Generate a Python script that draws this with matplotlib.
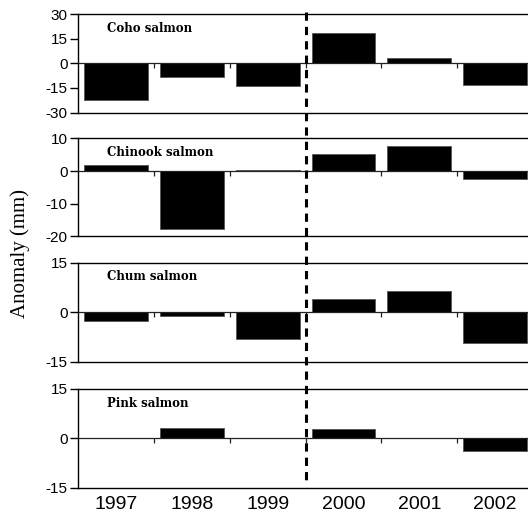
import matplotlib
matplotlib.use("Agg")
import matplotlib.pyplot as plt
import matplotlib.transforms as mtransforms
from matplotlib.lines import Line2D
import numpy as np

years = ["1997", "1998", "1999", "2000", "2001", "2002"]
species = ["Coho salmon", "Chinook salmon", "Chum salmon", "Pink salmon"]
coho = [-22.5, -8.6, -14.0, 18.4, 3.0, -13.0]
chinook = [1.8, -17.8, 0.3, 5.2, 7.6, -2.4]
chum = [-2.7, -1.2, -8.3, 4.0, 6.5, -9.5]
pink = [0.0, 3.0, 0.0, 2.7, 0.0, -4.0]
series = [coho, chinook, chum, pink]
ylims = [(-30, 30), (-20, 10), (-15, 15), (-15, 15)]
yticks = [[-30, -15, 0, 15, 30], [-20, -10, 0, 10], [-15, 0, 15], [-15, 0, 15]]
ylabel = "Anomaly (mm)"
split_pos = 2.5

W, H = 528, 515
fig = plt.figure(figsize=(W / 100, H / 100), dpi=100)

left = 78.25 / W
width = (533 - 78.25) / W
panels_px = [(14, 112.5), (138.3, 236.5), (262.5, 361.5), (389, 487.5)]

x = np.arange(len(years))
axes = []
for i, (vals, (top, bot)) in enumerate(zip(series, panels_px)):
    ax = fig.add_axes([left, 1 - bot / H, width, (bot - top) / H])
    axes.append(ax)
    ax.bar(x, vals, width=0.84, color="black", edgecolor="#555555", linewidth=0.6, zorder=2)
    ax.axhline(0, color="#222222", linewidth=0.9, zorder=3)
    # small tick marks on the zero line between categories
    ax.plot(x[:-1] + 0.5, np.zeros(len(x) - 1), linestyle="none", marker=3,
            markersize=3.5, color="#222222", markeredgewidth=0.9, zorder=3)
    ax.set_xlim(-0.5, len(years) - 0.5)
    ax.set_ylim(*ylims[i])
    ax.set_yticks(yticks[i])
    ax.set_yticklabels([str(v) for v in yticks[i]], fontsize=11, family="Liberation Sans")
    ax.tick_params(axis="y", direction="out", length=6, width=1.0, pad=1.5)
    ax.spines["right"].set_visible(False)
    for s in ["top", "bottom", "left"]:
        ax.spines[s].set_linewidth(1.0)
    ax.text(0.063, 1 - 14.5 / (bot - top), species[i], transform=ax.transAxes,
            fontsize=8.5, fontweight="bold", family="DejaVu Serif", va="center", ha="left")
    if i < len(series) - 1:
        ax.set_xticks([])
    else:
        ax.set_xticks(x)
        ax.set_xticklabels(years, fontsize=14, family="Liberation Sans")
        ax.tick_params(axis="x", length=0, pad=6)

fig.text(20 / W, 1 - 253 / H, ylabel, rotation=90, fontsize=15, family="Liberation Serif",
         ha="center", va="center")

trans = mtransforms.blended_transform_factory(axes[0].transData, fig.transFigure)
line = Line2D([split_pos, split_pos], [1 - 12 / H, 1 - 482 / H], transform=trans,
              color="black", linewidth=2.2, dashes=(2.7, 2.0))
fig.lines.append(line)

fig.savefig("out.png", dpi=100)
